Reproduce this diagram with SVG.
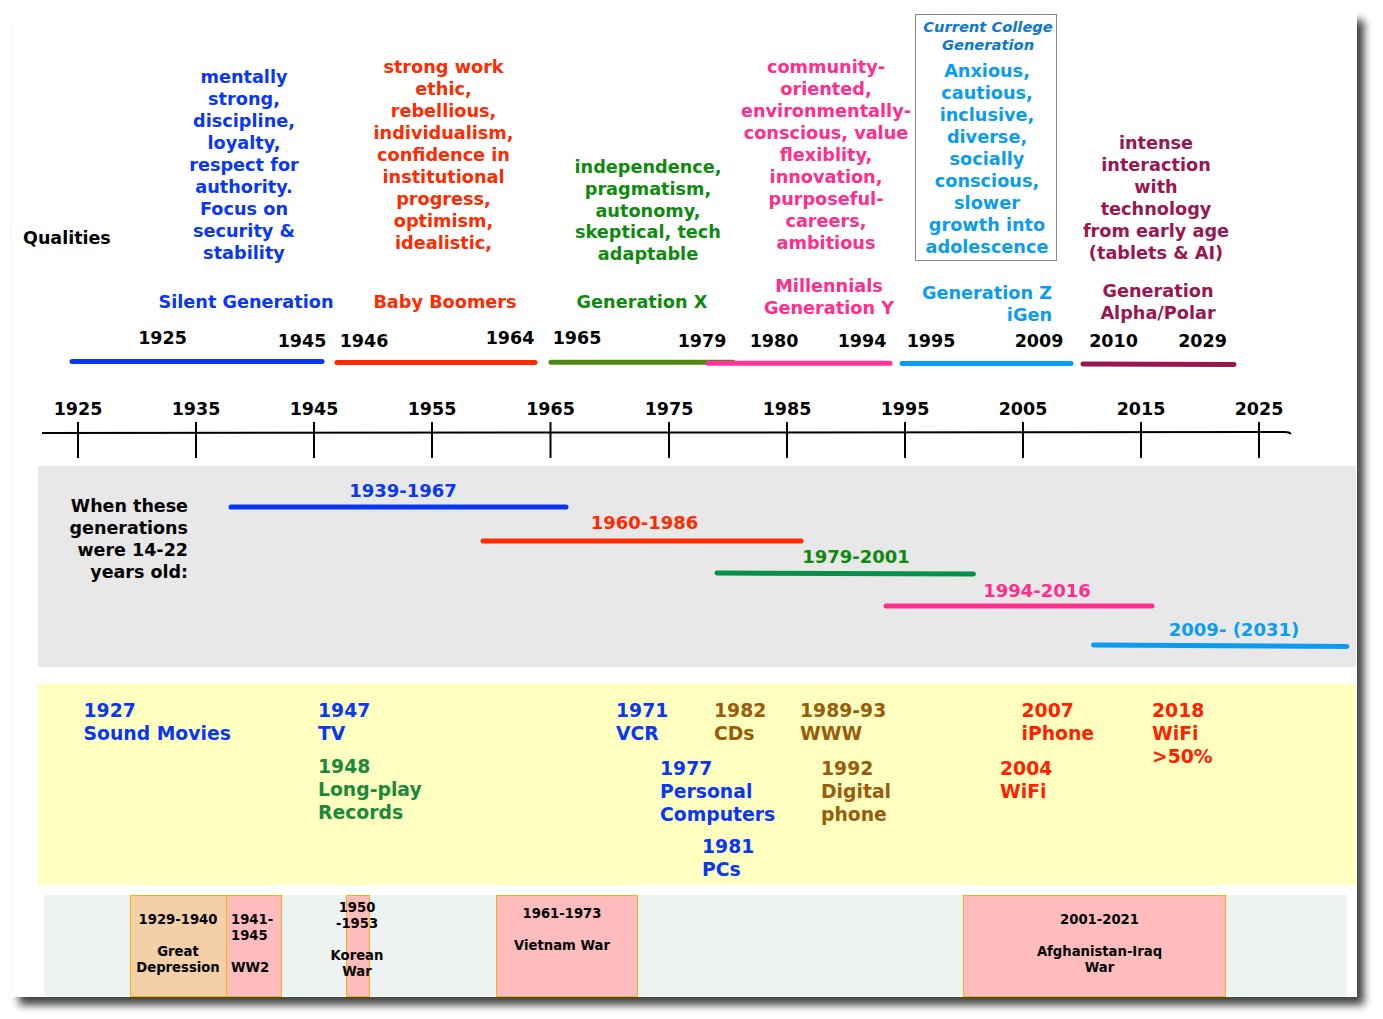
<svg xmlns="http://www.w3.org/2000/svg" width="1383" height="1019" viewBox="0 0 1383 1019">
<defs>
<filter id="sh" x="-5%" y="-5%" width="110%" height="110%">
<feGaussianBlur in="SourceAlpha" stdDeviation="4"/>
<feOffset dx="7" dy="8"/>
<feComponentTransfer><feFuncA type="linear" slope="0.75"/></feComponentTransfer>
<feMerge><feMergeNode/><feMergeNode in="SourceGraphic"/></feMerge>
</filter>
<style>
text{font-family:"DejaVu Sans",Verdana,sans-serif;font-weight:bold}
.q{font-size:17.7px;text-anchor:middle}
.cc{font-size:14.7px;font-style:italic;text-anchor:middle;fill:#0a78d0}
.yr{font-size:17.5px;text-anchor:middle;fill:#000}
.ax{font-size:17.5px;text-anchor:middle;fill:#000}
.age{font-size:18px;text-anchor:middle}
.ev{font-size:18.8px}
.war{font-size:13.2px;text-anchor:middle;fill:#000}
.blue{fill:#0a36f5}.red{fill:#ff2a00}.green{fill:#0e8a0e}.pink{fill:#ff2d8c}.sky{fill:#0a9cf0}.alpha{fill:#99164f}
.brown{fill:#9a5c0a}.lgreen{fill:#1a8a3a}.ered{fill:#ff2200}
.bar{stroke-width:5;stroke-linecap:round;fill:none}
.tick{stroke:#000;stroke-width:2}
.box{stroke:#f5b400;stroke-width:1}
</style>
</defs>
<rect x="0" y="0" width="1383" height="1019" fill="#fff"/>
<rect x="12" y="12" width="1345" height="985" fill="#fff" filter="url(#sh)"/>

<g id="qualities-label"><text x="23" y="244" font-size="17.5" fill="#000">Qualities</text></g>

<g id="silent">
<text class="q blue"><tspan x="244" y="83">mentally</tspan><tspan x="244" y="105">strong,</tspan><tspan x="244" y="127">discipline,</tspan><tspan x="244" y="149">loyalty,</tspan><tspan x="244" y="171">respect for</tspan><tspan x="244" y="193">authority.</tspan><tspan x="244" y="215">Focus on</tspan><tspan x="244" y="237">security &amp;</tspan><tspan x="244" y="259">stability</tspan></text>
<text class="q blue" x="246" y="308">Silent Generation</text>
</g>
<g id="boomers">
<text class="q red"><tspan x="443.5" y="73">strong work</tspan><tspan x="443.5" y="95">ethic,</tspan><tspan x="443.5" y="117">rebellious,</tspan><tspan x="443.5" y="139">individualism,</tspan><tspan x="443.5" y="161">confidence in</tspan><tspan x="443.5" y="183">institutional</tspan><tspan x="443.5" y="205">progress,</tspan><tspan x="443.5" y="227">optimism,</tspan><tspan x="443.5" y="249">idealistic,</tspan></text>
<text class="q red" x="445" y="308">Baby Boomers</text>
</g>
<g id="genx">
<text class="q green"><tspan x="648" y="173">independence,</tspan><tspan x="648" y="195">pragmatism,</tspan><tspan x="648" y="217">autonomy,</tspan><tspan x="648" y="238">skeptical, tech</tspan><tspan x="648" y="260">adaptable</tspan></text>
<text class="q green" x="642" y="308">Generation X</text>
</g>
<g id="millennials">
<text class="q pink"><tspan x="826" y="73">community-</tspan><tspan x="826" y="95">oriented,</tspan><tspan x="826" y="117">environmentally-</tspan><tspan x="826" y="139">conscious, value</tspan><tspan x="826" y="161">flexiblity,</tspan><tspan x="826" y="183">innovation,</tspan><tspan x="826" y="205">purposeful-</tspan><tspan x="826" y="227">careers,</tspan><tspan x="826" y="249">ambitious</tspan></text>
<text class="q pink"><tspan x="829" y="292">Millennials</tspan><tspan x="829" y="314">Generation Y</tspan></text>
</g>
<g id="genz">
<rect x="915.5" y="14.5" width="141" height="246" fill="none" stroke="#888" stroke-width="1"/>
<text class="cc"><tspan x="988" y="32">Current College</tspan><tspan x="988" y="50">Generation</tspan></text>
<text class="q sky"><tspan x="987" y="77">Anxious,</tspan><tspan x="987" y="99">cautious,</tspan><tspan x="987" y="121">inclusive,</tspan><tspan x="987" y="143">diverse,</tspan><tspan x="987" y="165">socially</tspan><tspan x="987" y="187">conscious,</tspan><tspan x="987" y="209">slower</tspan><tspan x="987" y="231">growth into</tspan><tspan x="987" y="253">adolescence</tspan></text>
<text class="q sky" style="text-anchor:end"><tspan x="1052" y="299">Generation Z</tspan><tspan x="1052" y="321">iGen</tspan></text>
</g>
<g id="alpha">
<text class="q alpha"><tspan x="1156" y="149">intense</tspan><tspan x="1156" y="171">interaction</tspan><tspan x="1156" y="193">with</tspan><tspan x="1156" y="215">technology</tspan><tspan x="1156" y="237">from early age</tspan><tspan x="1156" y="259">(tablets &amp; AI)</tspan></text>
<text class="q alpha"><tspan x="1158" y="297">Generation</tspan><tspan x="1158" y="319">Alpha/Polar</tspan></text>
</g>

<g id="gen-years">
<text class="yr" x="162.5" y="344">1925</text>
<text class="yr" x="302" y="347">1945</text>
<text class="yr" x="364" y="347">1946</text>
<text class="yr" x="510" y="344">1964</text>
<text class="yr" x="577" y="344">1965</text>
<text class="yr" x="702" y="347">1979</text>
<text class="yr" x="774" y="347">1980</text>
<text class="yr" x="862" y="347">1994</text>
<text class="yr" x="931" y="347">1995</text>
<text class="yr" x="1039" y="347">2009</text>
<text class="yr" x="1113.5" y="347">2010</text>
<text class="yr" x="1202.5" y="347">2029</text>
</g>
<g id="gen-bars">
<line class="bar" x1="72" y1="361.5" x2="322" y2="361.5" stroke="#0a36f5"/>
<line class="bar" x1="337" y1="362.5" x2="535" y2="362.5" stroke="#ff2a00"/>
<line class="bar" x1="551" y1="362.3" x2="733" y2="362.3" stroke="#4f8a10"/>
<line class="bar" x1="708" y1="363.3" x2="890" y2="363.3" stroke="#ff3399"/>
<line class="bar" x1="902" y1="363.5" x2="1071" y2="363.5" stroke="#0a9cf0"/>
<line class="bar" x1="1083" y1="364" x2="1234" y2="364.5" stroke="#99164f"/>
</g>

<g id="timeline">
<path d="M42,433 L1283,432 Q1289,431.5 1291,434" fill="none" stroke="#000" stroke-width="2"/>
<line class="tick" x1="78" y1="422" x2="78" y2="458"/>
<line class="tick" x1="196" y1="422" x2="196" y2="458"/>
<line class="tick" x1="314" y1="422" x2="314" y2="458"/>
<line class="tick" x1="432" y1="422" x2="432" y2="458"/>
<line class="tick" x1="550.5" y1="422" x2="550.5" y2="458"/>
<line class="tick" x1="669" y1="422" x2="669" y2="458"/>
<line class="tick" x1="787" y1="422" x2="787" y2="458"/>
<line class="tick" x1="905" y1="422" x2="905" y2="458"/>
<line class="tick" x1="1023" y1="422" x2="1023" y2="458"/>
<line class="tick" x1="1141" y1="422" x2="1141" y2="458"/>
<line class="tick" x1="1259" y1="422" x2="1259" y2="458"/>
<text class="ax" x="78" y="415">1925</text>
<text class="ax" x="196" y="415">1935</text>
<text class="ax" x="314" y="415">1945</text>
<text class="ax" x="432" y="415">1955</text>
<text class="ax" x="550.5" y="415">1965</text>
<text class="ax" x="669" y="415">1975</text>
<text class="ax" x="787" y="415">1985</text>
<text class="ax" x="905" y="415">1995</text>
<text class="ax" x="1023" y="415">2005</text>
<text class="ax" x="1141" y="415">2015</text>
<text class="ax" x="1259" y="415">2025</text>
</g>

<g id="ages">
<rect x="38" y="466" width="1318" height="201" fill="#e8e8e8"/>
<text font-size="17.5" text-anchor="end" fill="#000"><tspan x="188" y="512">When these</tspan><tspan x="188" y="534">generations</tspan><tspan x="188" y="556">were 14-22</tspan><tspan x="188" y="578">years old:</tspan></text>
<line class="bar" x1="231" y1="507" x2="566" y2="507" stroke="#0a36f5"/>
<text class="age blue" x="403" y="497">1939-1967</text>
<line class="bar" x1="483" y1="541" x2="801" y2="541" stroke="#ff2a00"/>
<text class="age red" x="644.5" y="529">1960-1986</text>
<line class="bar" x1="717" y1="573" x2="973.5" y2="574" stroke="#06904a"/>
<text class="age green" x="856" y="563">1979-2001</text>
<line class="bar" x1="886" y1="606" x2="1152" y2="606" stroke="#ff2d8c"/>
<text class="age pink" x="1037" y="597">1994-2016</text>
<line class="bar" x1="1093.5" y1="645" x2="1347" y2="646.5" stroke="#0a9cf0"/>
<text class="age sky" x="1234" y="636">2009- (2031)</text>
</g>

<g id="tech">
<rect x="38" y="684" width="1318" height="201" fill="#ffffc0"/>
<text class="ev blue"><tspan x="83.5" y="717">1927</tspan><tspan x="83.5" y="740">Sound Movies</tspan></text>
<text class="ev blue"><tspan x="318" y="717">1947</tspan><tspan x="318" y="740">TV</tspan></text>
<text class="ev lgreen"><tspan x="318" y="773">1948</tspan><tspan x="318" y="796">Long-play</tspan><tspan x="318" y="819">Records</tspan></text>
<text class="ev blue"><tspan x="616" y="717">1971</tspan><tspan x="616" y="740">VCR</tspan></text>
<text class="ev blue"><tspan x="660" y="775">1977</tspan><tspan x="660" y="798">Personal</tspan><tspan x="660" y="821">Computers</tspan></text>
<text class="ev blue"><tspan x="702" y="853">1981</tspan><tspan x="702" y="876">PCs</tspan></text>
<text class="ev brown"><tspan x="714" y="717">1982</tspan><tspan x="714" y="740">CDs</tspan></text>
<text class="ev brown"><tspan x="800" y="717">1989-93</tspan><tspan x="800" y="740">WWW</tspan></text>
<text class="ev brown"><tspan x="821" y="775">1992</tspan><tspan x="821" y="798">Digital</tspan><tspan x="821" y="821">phone</tspan></text>
<text class="ev ered"><tspan x="1021.5" y="717">2007</tspan><tspan x="1021.5" y="740">iPhone</tspan></text>
<text class="ev ered"><tspan x="1000" y="775">2004</tspan><tspan x="1000" y="798">WiFi</tspan></text>
<text class="ev ered"><tspan x="1152" y="717">2018</tspan><tspan x="1152" y="740">WiFi</tspan><tspan x="1152" y="763">&gt;50%</tspan></text>
</g>

<g id="events">
<rect x="44" y="895" width="1303" height="101" fill="#edf2f2"/>
<g id="depression">
<rect class="box" x="130.5" y="895.5" width="96" height="101" fill="#f3d0a8"/>
<text class="war"><tspan x="178" y="924">1929-1940</tspan><tspan x="178" y="956">Great</tspan><tspan x="178" y="972">Depression</tspan></text>
</g>
<g id="ww2">
<rect class="box" x="226.5" y="895.5" width="55" height="101" fill="#ffbcbc"/>
<text class="war" style="text-anchor:start"><tspan x="231" y="924">1941-</tspan><tspan x="231" y="940">1945</tspan><tspan x="231" y="972">WW2</tspan></text>
</g>
<g id="korea">
<rect class="box" x="346.5" y="895.5" width="23" height="101" fill="#ffbcbc"/>
<text class="war"><tspan x="357" y="912">1950</tspan><tspan x="357" y="928">-1953</tspan><tspan x="357" y="960">Korean</tspan><tspan x="357" y="976">War</tspan></text>
</g>
<g id="vietnam">
<rect class="box" x="496.5" y="895.5" width="141" height="101" fill="#ffbcbc"/>
<text class="war"><tspan x="562" y="918">1961-1973</tspan><tspan x="562" y="950">Vietnam War</tspan></text>
</g>
<g id="afghan">
<rect class="box" x="963.5" y="895.5" width="262" height="101" fill="#ffbcbc"/>
<text class="war"><tspan x="1099.5" y="924">2001-2021</tspan><tspan x="1099.5" y="956">Afghanistan-Iraq</tspan><tspan x="1099.5" y="972">War</tspan></text>
</g>
</g>
</svg>
